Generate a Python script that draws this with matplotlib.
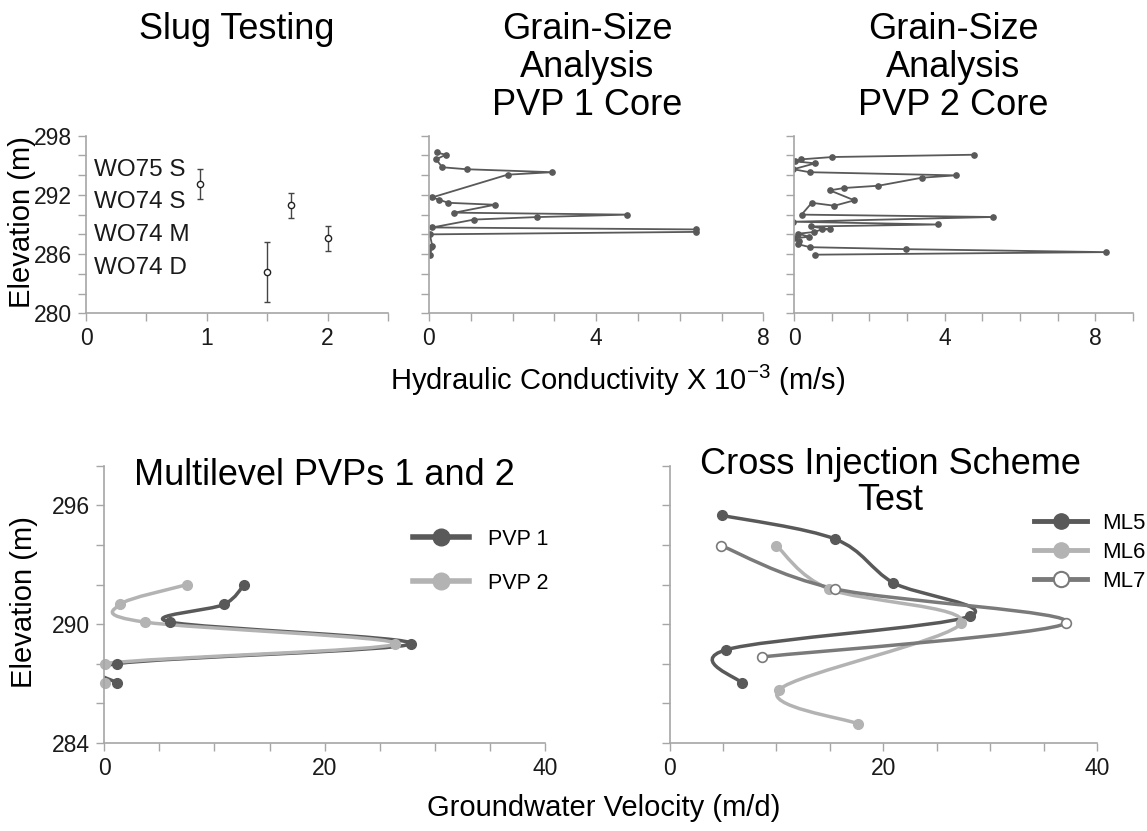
import numpy as np
import matplotlib
matplotlib.use("Agg")
import matplotlib.pyplot as plt
from matplotlib.path import Path
from matplotlib.patches import PathPatch
from matplotlib.lines import Line2D

plt.rcParams["font.family"] = ["Liberation Sans", "DejaVu Sans"]
plt.rcParams["mathtext.fontset"] = "custom"
plt.rcParams["mathtext.rm"] = "Liberation Sans"

# ── colours ──
DARK = "#595959"
LIGHT = "#b3b3b3"
MID = "#7a7a7a"
SPINE = "#a6a6a6"

# ── slug testing ──
slug_names = ["WO75 S", "WO74 S", "WO74 M", "WO74 D"]
slug_label_elev = [294.5, 291.3, 287.9, 284.6]
slug_k = [0.94, 1.70, 2.00, 1.50]
slug_elev = [293.1, 291.0, 287.6, 284.2]
slug_err_lo = [1.5, 1.3, 1.3, 3.1]
slug_err_hi = [1.5, 1.2, 1.2, 3.05]

# ── grain-size PVP 1 core ──
gs1_k = [0.18, 0.40, 0.17, 0.32, 0.90, 2.95, 1.88, 0.08, 0.25, 0.46, 1.58, 0.61,
         4.75, 2.58, 1.08, 0.08, 6.38, 6.38, 0.02, 0.08, 0.04, -0.03, 0.02]
gs1_elev = [296.3, 296.07, 295.6, 294.8, 294.6, 294.3, 294.05, 291.75, 291.5, 291.2,
            291.0, 290.2, 290.0, 289.75, 289.5, 288.7, 288.5, 288.25, 288.0, 286.8,
            286.7, 286.35, 285.95]

# ── grain-size PVP 2 core ──
gs2_k = [4.77, 1.02, 0.18, 0.03, 0.56, -0.02, 0.41, 4.29, 3.39, 2.24, 1.33, 0.95,
         1.60, 1.07, 0.47, 0.20, 5.29, -0.02, 3.81, 0.45, 0.95, 0.73, 0.54, 0.11,
         0.40, 0.01, 0.13, 0.11, 0.42, 2.97, 8.27, 0.56]
gs2_elev = [296.07, 295.84, 295.6, 295.4, 295.2, 294.6, 294.3, 293.98, 293.74, 292.93,
            292.7, 292.46, 291.45, 290.9, 291.2, 290.0, 289.76, 289.28, 289.0, 288.8,
            288.5, 288.5, 288.24, 288.07, 287.76, 287.6, 287.3, 287.0, 286.7, 286.5,
            286.2, 285.94]

# ── multilevel PVPs ──
pvp_elev = [292.0, 291.0, 290.1, 289.0, 288.0, 287.0]
pvp1_v = [12.7, 10.9, 6.0, 27.8, 1.2, 1.2]
pvp2_v = [7.55, 1.45, 3.7, 26.4, 0.07, 0.07]

# ── cross injection scheme ──
ml5_v = [4.9, 15.5, 20.9, 28.1, 5.3, 6.8]
ml5_elev = [295.5, 294.3, 292.1, 290.4, 288.7, 287.0]
ml6_v = [10.0, 14.9, 27.3, 10.25, 17.6]
ml6_elev = [293.97, 291.78, 290.06, 286.68, 284.96]
ml7_v = [4.8, 15.5, 37.1, 8.7]
ml7_elev = [293.97, 291.78, 290.06, 288.34]


def smooth_path(x, y):
    """Catmull-Rom style Bezier through the points (like Excel smoothed lines)"""
    pts = np.column_stack([x, y]).astype(float)
    n = len(pts)
    verts = [pts[0]]
    codes = [Path.MOVETO]
    for i in range(n - 1):
        p0 = pts[i - 1] if i > 0 else pts[i]
        p1, p2 = pts[i], pts[i + 1]
        p3 = pts[i + 2] if i + 2 < n else pts[i + 1]
        verts += [p1 + (p2 - p0) / 6, p2 - (p3 - p1) / 6, p2]
        codes += [Path.CURVE4] * 3
    return Path(verts, codes)


def style_axis(ax, xticks, xlabels, yticks, ylabels):
    for s in ("top", "right"):
        ax.spines[s].set_visible(False)
    for s in ("left", "bottom"):
        ax.spines[s].set_color(SPINE)
        ax.spines[s].set_linewidth(1.2)
    ax.set_xticks(xticks)
    ax.set_xticklabels(xlabels)
    ax.set_yticks(yticks)
    ax.set_yticklabels(ylabels)
    ax.tick_params(direction="out", length=6, width=1.0, color=SPINE,
                   labelsize=16.5, labelcolor="#1a1a1a", pad=4)


fig = plt.figure(figsize=(11.47, 8.31), dpi=100)

# ═══ top row ═══
top_b, top_h = 0.623, 0.2137
elev_ticks_top = np.arange(280, 299, 2)
elev_labels_top = [str(v) if v in (280, 286, 292, 298) else "" for v in elev_ticks_top]

ax1 = fig.add_axes([0.075, top_b, 0.2633, top_h])
ax1.errorbar(slug_k, slug_elev, yerr=[slug_err_lo, slug_err_hi], fmt="o",
             ms=4.5, mfc="white", mec="#222222", mew=1.0, ecolor="#444444",
             elinewidth=1.0, capsize=2.5, capthick=1.0)
for name, e in zip(slug_names, slug_label_elev):
    ax1.text(0.07, e, name, fontsize=17.5, va="center", ha="left", color="#1a1a1a")
ax1.set_xlim(0, 2.5)
ax1.set_ylim(280, 298)
style_axis(ax1, np.arange(0, 2.51, 0.5), ["0", "", "1", "", "2", ""],
           elev_ticks_top, elev_labels_top)

ax2 = fig.add_axes([0.374, top_b, 0.2915, top_h])
ax2.plot(gs1_k, gs1_elev, "-o", color=DARK, lw=1.3, ms=3.8)
ax2.set_xlim(0, 8)
ax2.set_ylim(280, 298)
style_axis(ax2, np.arange(0, 9, 1), ["0", "", "", "", "4", "", "", "", "8"],
           elev_ticks_top, [""] * len(elev_ticks_top))

ax3 = fig.add_axes([0.6923, top_b, 0.2956, top_h])
ax3.plot(gs2_k, gs2_elev, "-o", color=DARK, lw=1.3, ms=3.8)
ax3.set_xlim(0, 9)
ax3.set_ylim(280, 298)
style_axis(ax3, np.arange(0, 10, 1), ["0", "", "", "", "4", "", "", "", "8", ""],
           elev_ticks_top, [""] * len(elev_ticks_top))

fig.text(237 / 1147, 1 - 12 / 831, "Slug Testing", fontsize=26, ha="center", va="top")
fig.text(587 / 1147, 1 - 12 / 831, "Grain-Size\nAnalysis\nPVP 1 Core", fontsize=26,
         ha="center", va="top", linespacing=1.12)
fig.text(953 / 1147, 1 - 12 / 831, "Grain-Size\nAnalysis\nPVP 2 Core", fontsize=26,
         ha="center", va="top", linespacing=1.12)
fig.text(22 / 1147, 1 - 222 / 831, "Elevation (m)", fontsize=21, rotation=90,
         ha="center", va="center")
fig.text(618 / 1147, 1 - 380 / 831, r"Hydraulic Conductivity X 10$^{\mathregular{-3}}$ (m/s)",
         fontsize=21, ha="center", va="center")

# ═══ bottom row ═══
bot_b, bot_h = 0.1063, 0.333
elev_ticks_bot = np.arange(284, 299, 2)
elev_labels_bot = [str(v) if v in (284, 290, 296) else "" for v in elev_ticks_bot]
vel_ticks = np.arange(0, 41, 5)
vel_labels = [str(v) if v in (0, 20, 40) else "" for v in vel_ticks]

ax4 = fig.add_axes([0.0907, bot_b, 0.3847, bot_h])
for v, c in ((pvp1_v, DARK), (pvp2_v, LIGHT)):
    ax4.add_patch(PathPatch(smooth_path(v, pvp_elev), fill=False, ec=c, lw=2.5,
                            capstyle="round"))
    ax4.plot(v, pvp_elev, "o", color=c, ms=7, clip_on=False)
ax4.set_xlim(0, 40)
ax4.set_ylim(284, 298)
style_axis(ax4, vel_ticks, vel_labels, elev_ticks_bot, elev_labels_bot)
h4 = [Line2D([], [], color=DARK, lw=4, marker="o", ms=12),
      Line2D([], [], color=LIGHT, lw=4, marker="o", ms=12)]
ax4.legend(h4, ["PVP 1", "PVP 2"], loc="upper left", bbox_to_anchor=(413 / 1147, 1 - 529 / 831),
           bbox_transform=fig.transFigure, frameon=False, fontsize=15.5,
           borderpad=0, borderaxespad=0, handlelength=2.6, handletextpad=0.9,
           labelspacing=1.05)
ax4.set_title("Multilevel PVPs 1 and 2", fontsize=26, pad=0, y=0.93)

ax5 = fig.add_axes([0.5837, bot_b, 0.3727, bot_h])
ax5.add_patch(PathPatch(smooth_path(ml5_v, ml5_elev), fill=False, ec=DARK, lw=2.5))
ax5.plot(ml5_v, ml5_elev, "o", color=DARK, ms=7)
ax5.add_patch(PathPatch(smooth_path(ml6_v, ml6_elev), fill=False, ec=LIGHT, lw=2.5))
ax5.plot(ml6_v, ml6_elev, "o", color=LIGHT, ms=7)
ax5.add_patch(PathPatch(smooth_path(ml7_v, ml7_elev), fill=False, ec=MID, lw=2.5))
ax5.plot(ml7_v, ml7_elev, "o", mfc="white", mec=MID, mew=1.2, ms=7)
ax5.set_xlim(0, 40)
ax5.set_ylim(284, 298)
style_axis(ax5, vel_ticks, vel_labels, elev_ticks_bot, [""] * len(elev_ticks_bot))
h5 = [Line2D([], [], color=DARK, lw=3.5, marker="o", ms=11),
      Line2D([], [], color=LIGHT, lw=3.5, marker="o", ms=11),
      Line2D([], [], color=MID, lw=3.5, marker="o", ms=11, mfc="white", mec=MID, mew=1.5)]
ax5.legend(h5, ["ML5", "ML6", "ML7"], loc="upper left", bbox_to_anchor=(1034 / 1147, 1 - 513 / 831),
           bbox_transform=fig.transFigure, frameon=False, fontsize=16,
           borderpad=0, borderaxespad=0, handlelength=2.4, handletextpad=0.65,
           labelspacing=0.35)
fig.text(890 / 1147, 1 - 447 / 831, "Cross Injection Scheme\nTest", fontsize=26,
         ha="center", va="top", linespacing=1.05)

fig.text(24 / 1147, 1 - 602 / 831, "Elevation (m)", fontsize=21, rotation=90,
         ha="center", va="center")
fig.text(604 / 1147, 1 - 808 / 831, "Groundwater Velocity (m/d)", fontsize=21,
         ha="center", va="center")

fig.savefig("out.png", dpi=100)
